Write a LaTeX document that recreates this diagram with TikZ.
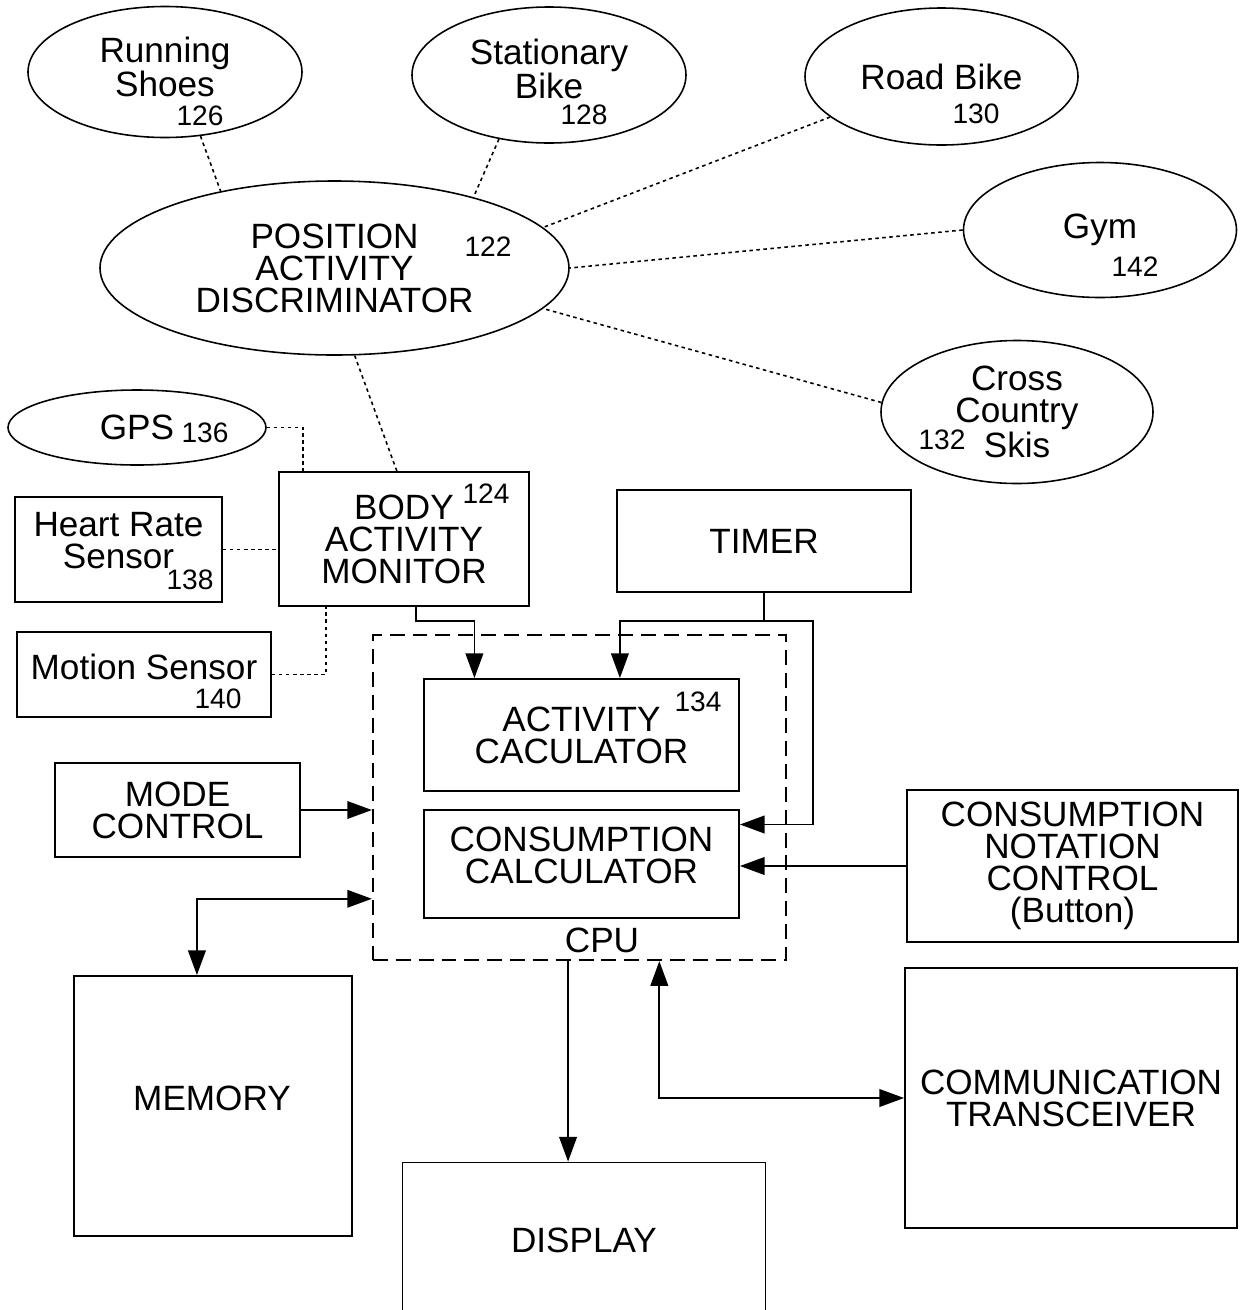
\documentclass[tikz,border=0pt]{standalone}
\usepackage{fontspec}
\setmainfont{Liberation Sans}
\usetikzlibrary{arrows.meta}
\usetikzlibrary{calc}
\usetikzlibrary{shapes.geometric}
\usetikzlibrary{positioning}

\newcommand{\bigsz}{\fontsize{20}{18.2}\selectfont}
\newcommand{\numsz}{\fontsize{16}{16}\selectfont}

\tikzset{
  box/.style={draw, rectangle, line width=1.05pt, align=center, font=\bigsz, inner sep=0pt},
  oval/.style={draw, ellipse, line width=0.9pt, align=center, font=\bigsz, inner sep=0pt},
  txt/.style={align=center, font=\bigsz, inner sep=0pt},
  num/.style={font=\numsz, inner sep=0pt},
  link/.style={line width=0.9pt, dash pattern=on 2pt off 2pt},
  flow/.style={line width=1.05pt, -{Triangle[length=14pt,width=10pt]}},
  both/.style={line width=1.05pt, {Triangle[length=14pt,width=10pt]}-{Triangle[length=14pt,width=10pt]}},
  cpubox/.style={draw, rectangle, line width=1.3pt, dash pattern=on 8.5pt off 4.5pt}
}

\begin{document}
\begin{tikzpicture}
\useasboundingbox (0,0) rectangle (24.86,-26.2);
\clip (0,0) rectangle (24.86,-26.2);

% ovals
              \draw (3.30,-1.44) node[oval, minimum width=5.48cm, minimum height=2.62cm]   (shoes) {};
              \draw (3.30,-1.34) node[txt]                                                  (shoeslbl) {Running\\Shoes};
              \draw (10.98,-1.50) node[oval, minimum width=5.48cm, minimum height=2.72cm]  (station) {};
              \draw (10.98,-1.38) node[txt]                                                 (stationlbl) {Stationary\\Bike};
              \draw (18.83,-1.53) node[oval, minimum width=5.46cm, minimum height=2.74cm]  (road) {Road Bike};
              \draw (22.0,-4.6) node[oval, minimum width=5.46cm, minimum height=2.7cm]     (gym) {Gym};
              \draw (20.34,-8.24) node[oval, minimum width=5.44cm, minimum height=2.86cm]  (skis) {Cross\\Country\\Skis};
              \draw (6.69,-5.36) node[oval, minimum width=9.38cm, minimum height=3.48cm]   (pad) {POSITION\\ACTIVITY\\DISCRIMINATOR};
              \draw (2.74,-8.55) node[oval, minimum width=5.16cm, minimum height=1.5cm]    (gps) {GPS};

% boxes
              \draw (8.08,-10.78) node[box, minimum width=5.0cm, minimum height=2.68cm]    (body) {BODY\\ACTIVITY\\MONITOR};
              \draw (2.37,-10.99) node[box, minimum width=4.14cm, minimum height=2.1cm]    (heart) {};
              \draw (2.37,-10.82) node[txt]                                                 (heartlbl) {Heart Rate\\Sensor};
              \draw (2.88,-13.49) node[box, minimum width=5.08cm, minimum height=1.7cm]    (motion) {};
              \draw (2.88,-13.34) node[txt]                                                 (motionlbl) {Motion Sensor};
              \draw (15.28,-10.82) node[box, minimum width=5.88cm, minimum height=2.04cm]  (timer) {TIMER};
              \draw (11.59,-15.95) node[cpubox, minimum width=8.26cm, minimum height=6.5cm] (cpu) {};
              \draw (11.63,-14.7) node[box, minimum width=6.3cm, minimum height=2.24cm]    (act) {ACTIVITY\\CACULATOR};
              \draw (11.63,-17.28) node[box, minimum width=6.3cm, minimum height=2.16cm]   (calc) {};
              \draw (11.63,-17.1) node[txt]                                                 (calclbl) {CONSUMPTION\\CALCULATOR};
              \draw (12.04,-18.8) node[txt]                                                 (cpulbl) {CPU};
              \draw (3.55,-16.2) node[box, minimum width=4.9cm, minimum height=1.88cm]     (mode) {MODE\\CONTROL};
              \draw (21.45,-17.32) node[box, minimum width=6.62cm, minimum height=3.04cm]  (note) {CONSUMPTION\\NOTATION\\CONTROL\\(Button)};
              \draw (4.26,-22.12) node[box, minimum width=5.56cm, minimum height=5.2cm]    (mem) {};
              \draw (4.24,-21.96) node[txt]                                                 (memlbl) {MEMORY};
              \draw (21.42,-21.96) node[box, minimum width=6.64cm, minimum height=5.2cm]   (comm) {COMMUNICATION\\TRANSCEIVER};
              \draw (11.68,-24.8) node[box, minimum width=7.26cm, minimum height=3.1cm]    (disp) {DISPLAY};

% reference numbers
              \draw (4.0,-2.32) node[num]    (n126) {126};
              \draw (11.68,-2.3) node[num]   (n128) {128};
              \draw (19.52,-2.28) node[num]  (n130) {130};
              \draw (22.7,-5.34) node[num]   (n142) {142};
              \draw (18.84,-8.8) node[num]   (n132) {132};
              \draw (9.76,-4.94) node[num]   (n122) {122};
              \draw (4.1,-8.66) node[num]    (n136) {136};
              \draw (9.72,-9.88) node[num]   (n124) {124};
              \draw (3.8,-11.6) node[num]    (n138) {138};
              \draw (4.36,-13.98) node[num]  (n140) {140};
              \draw (13.96,-14.04) node[num] (n134) {134};

% dotted links
              \draw[link] (shoes.-61.8) -- (pad.146);
              \draw[link] (station.-128.3) -- (pad.27.1);
              \draw[link] (road.200.6) -- (pad.11.2);
              \draw[link] (gym.west) -- (pad.east);
              \draw[link] (skis.176.2) -- (pad.-11.9);
              \draw[link] (pad.-77.1) -- (body.96.8);
              \draw[link] (gps.east) -| (body.146.7);
              \draw[link] (heart.east) -- (heart.east -| body.west);
              \draw[link] (motion.east) -| (body.221);

% signal arrows
              \draw[flow] (body.280.2) -- ++(0,-0.28) -| (act.152);
              \draw[flow] (timer.south) -- ++(0,-0.56) -| (act.56.2);
              \draw[flow] (timer.south) -- ++(0,-0.56) -- ++(0.98,0) |- (calc.14.9);
              \draw[flow] (mode.east) -- (mode.east -| cpu.west);
              \draw[both] (mem.97.4) |- (cpu.206.4);
              \draw[flow] (cpu.266.7) -- (cpu.266.7 |- disp.north);
              \draw[both] (cpu.296.9) |- (comm.west);
              \draw[flow] (note.west) -- (note.west -| calc.east);
\end{tikzpicture}
\end{document}
